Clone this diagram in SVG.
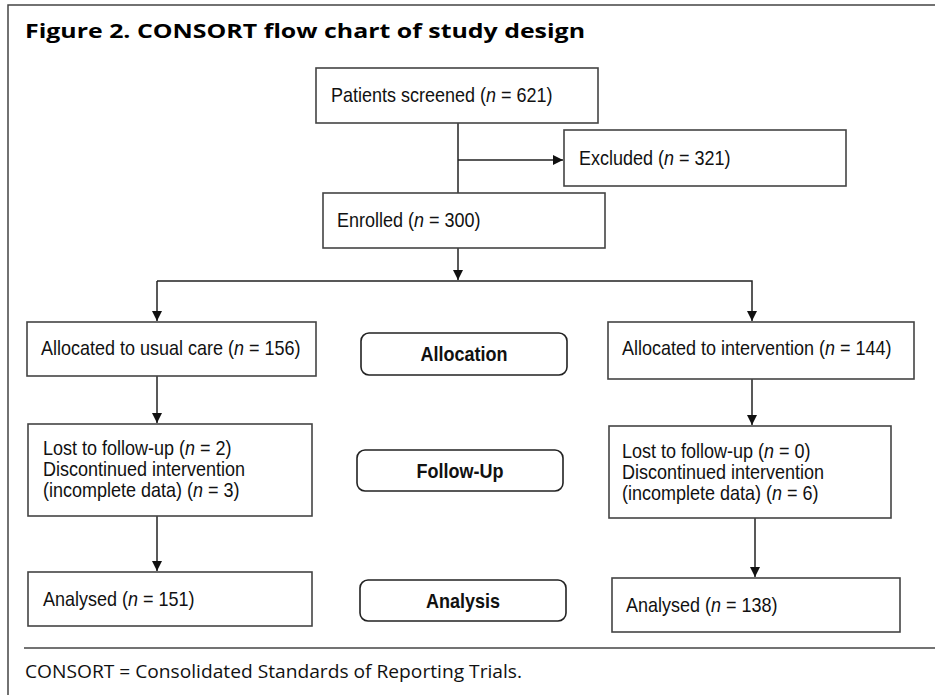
<svg xmlns="http://www.w3.org/2000/svg" width="935" height="695" viewBox="0 0 935 695">
<style>
.box{fill:#fff;stroke:#444;stroke-width:1.6}
.rbox{fill:#fff;stroke:#222;stroke-width:1.6}
.t{font-family:"Liberation Sans",Arial,sans-serif;font-size:20px;fill:#111}
.b{font-family:"Liberation Sans",Arial,sans-serif;font-size:20px;font-weight:bold;fill:#111;text-anchor:middle}
.c{stroke:#222;stroke-width:1.5;fill:none}
.frame{stroke:#444;stroke-width:1.5;fill:none}
</style>
<defs>
<marker id="ah" viewBox="0 0 10 10" refX="10" refY="5" markerWidth="11" markerHeight="10" markerUnits="userSpaceOnUse" orient="auto">
<path d="M0,0 L10,5 L0,10 z" fill="#111"/>
</marker>
</defs>
<rect width="935" height="695" fill="#fff"/>
<g id="frame">
<path class="frame" d="M8,695 V5 H935"/>
<line class="frame" x1="24" y1="648" x2="935" y2="648"/>
<text x="25" y="38" font-family="'Open Sans','DejaVu Sans',sans-serif" font-size="20" font-weight="bold" fill="#000" textLength="560" lengthAdjust="spacingAndGlyphs">Figure 2. CONSORT flow chart of study design</text>
<text x="25" y="678" font-family="'Open Sans','DejaVu Sans',sans-serif" font-size="19" fill="#111" textLength="497" lengthAdjust="spacingAndGlyphs">CONSORT = Consolidated Standards of Reporting Trials.</text>
</g>
<g id="connectors">
<line class="c" x1="458" y1="123" x2="458" y2="193"/>
<line class="c" x1="458" y1="160" x2="563" y2="160" marker-end="url(#ah)"/>
<line class="c" x1="458" y1="248" x2="458" y2="280" marker-end="url(#ah)"/>
<polyline class="c" points="157,281 752,281 752,321" marker-end="url(#ah)"/>
<line class="c" x1="157" y1="281" x2="157" y2="321" marker-end="url(#ah)"/>
<line class="c" x1="157" y1="376" x2="157" y2="423" marker-end="url(#ah)"/>
<line class="c" x1="752" y1="379" x2="752" y2="425" marker-end="url(#ah)"/>
<line class="c" x1="157" y1="516" x2="157" y2="571" marker-end="url(#ah)"/>
<line class="c" x1="755" y1="518" x2="755" y2="577" marker-end="url(#ah)"/>
</g>
<g id="screened">
<rect class="box" x="316" y="68" width="282" height="55"/>
<text class="t" transform="translate(331,102) scale(0.9,1)">Patients screened (<tspan font-style="italic">n</tspan> = 621)</text>
</g>
<g id="excluded">
<rect class="box" x="564" y="130" width="282" height="56"/>
<text class="t" transform="translate(579,165) scale(0.9,1)">Excluded (<tspan font-style="italic">n</tspan> = 321)</text>
</g>
<g id="enrolled">
<rect class="box" x="323" y="193" width="282" height="55"/>
<text class="t" transform="translate(337,227) scale(0.9,1)">Enrolled (<tspan font-style="italic">n</tspan> = 300)</text>
</g>
<g id="alloc-usual">
<rect class="box" x="27" y="322" width="289" height="54"/>
<text class="t" transform="translate(41,355) scale(0.9,1)">Allocated to usual care (<tspan font-style="italic">n</tspan> = 156)</text>
</g>
<g id="allocation">
<rect class="rbox" x="361" y="333" width="206" height="42" rx="8"/>
<text class="b" transform="translate(464,361) scale(0.9,1)">Allocation</text>
</g>
<g id="alloc-int">
<rect class="box" x="608" y="322" width="306" height="57"/>
<text class="t" transform="translate(622,355) scale(0.9,1)">Allocated to intervention (<tspan font-style="italic">n</tspan> = 144)</text>
</g>
<g id="lost-usual">
<rect class="box" x="28" y="424" width="284" height="92"/>
<text class="t" transform="translate(43,455) scale(0.9,1)">Lost to follow-up (<tspan font-style="italic">n</tspan> = 2)</text>
<text class="t" transform="translate(43,476) scale(0.9,1)">Discontinued intervention</text>
<text class="t" transform="translate(43,497) scale(0.9,1)">(incomplete data) (<tspan font-style="italic">n</tspan> = 3)</text>
</g>
<g id="followup">
<rect class="rbox" x="357" y="450" width="206" height="41" rx="8"/>
<text class="b" transform="translate(460,478) scale(0.9,1)">Follow-Up</text>
</g>
<g id="lost-int">
<rect class="box" x="609" y="426" width="282" height="92"/>
<text class="t" transform="translate(622,458) scale(0.9,1)">Lost to follow-up (<tspan font-style="italic">n</tspan> = 0)</text>
<text class="t" transform="translate(622,479) scale(0.9,1)">Discontinued intervention</text>
<text class="t" transform="translate(622,500) scale(0.9,1)">(incomplete data) (<tspan font-style="italic">n</tspan> = 6)</text>
</g>
<g id="analysed-usual">
<rect class="box" x="28" y="572" width="284" height="54"/>
<text class="t" transform="translate(43,606) scale(0.9,1)">Analysed (<tspan font-style="italic">n</tspan> = 151)</text>
</g>
<g id="analysis">
<rect class="rbox" x="360" y="580" width="206" height="41" rx="8"/>
<text class="b" transform="translate(463,608) scale(0.9,1)">Analysis</text>
</g>
<g id="analysed-int">
<rect class="box" x="612" y="578" width="288" height="54"/>
<text class="t" transform="translate(626,612) scale(0.9,1)">Analysed (<tspan font-style="italic">n</tspan> = 138)</text>
</g>
</svg>
